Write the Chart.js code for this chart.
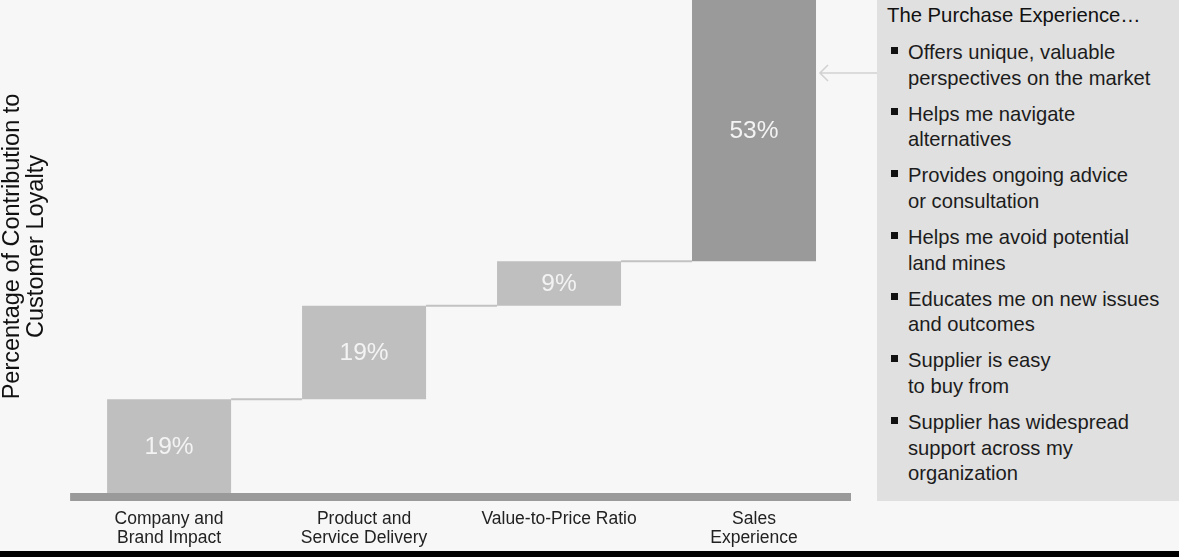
<!DOCTYPE html>
<html>
<head>
<meta charset="utf-8">
<script src="https://cdn.jsdelivr.net/npm/chart.js@4.4.1/dist/chart.umd.min.js"></script>
<style>
  body { margin: 0; background: #f7f7f7; font-family: "Liberation Sans", Arial, sans-serif; }
  #wrap { position: relative; width: 1179px; height: 551px; }
  #panel { position: absolute; left: 877px; top: 0; width: 302px; height: 501px; background: #e0e0e0; color: #1c1c1c; }
  #panel h3 { position: absolute; left: 10px; top: 3px; margin: 0; font-size: 20.3px; font-weight: normal; line-height: 25.5px; color: #111; }
  #panel ul { position: absolute; left: 31px; top: 40px; margin: 0; padding: 0; list-style: none; font-size: 20.2px; line-height: 25.5px; }
  #panel li { position: relative; margin-bottom: 10.7px; white-space: nowrap; }
  #panel li::before { content: ""; position: absolute; left: -17px; top: 6.5px; width: 7px; height: 7px; background: #111; }
  #arrow { position: absolute; left: 814px; top: 60px; }
  #bottomline { height: 6px; background: #000; }
</style>
</head>
<body>
<div id="wrap">
  <canvas id="grafica"></canvas>
  <svg id="arrow" width="64" height="26">
    <path d="M63 13 H6 M14 5 L6 13 L14 21" fill="none" stroke="#d2d2d2" stroke-width="1.6"/>
  </svg>
  <div id="panel">
    <h3 id="paneltitle"></h3>
    <ul id="panellist"></ul>
  </div>
</div>
<div id="bottomline"></div>
<script>
// datos del gráfico
var categorias = [["Company and", "Brand Impact"], ["Product and", "Service Delivery"], "Value-to-Price Ratio", ["Sales", "Experience"]];
var contribuciones = [19, 19, 9, 53];
var tituloEje = ["Percentage of Contribution to", "Customer Loyalty"];

// texto del panel de la derecha
var tituloPanel = "The Purchase Experience\u2026";
var puntosPanel = [
  ["Offers unique, valuable", "perspectives on the market"],
  ["Helps me navigate", "alternatives"],
  ["Provides ongoing advice", "or consultation"],
  ["Helps me avoid potential", "land mines"],
  ["Educates me on new issues", "and outcomes"],
  ["Supplier is easy", "to buy from"],
  ["Supplier has widespread", "support across my", "organization"]
];

// rellenamos el panel
document.getElementById("paneltitle").textContent = tituloPanel;
var lista = document.getElementById("panellist");
puntosPanel.forEach(function (lineas) {
  var li = document.createElement("li");
  lineas.forEach(function (linea, i) {
    if (i > 0) li.appendChild(document.createElement("br"));
    li.appendChild(document.createTextNode(linea));
  });
  lista.appendChild(li);
});

// tramos flotantes de la cascada (inicio, fin)
var tramos = [];
var finales = [];
var acumulado = 0;
contribuciones.forEach(function (v) {
  tramos.push([acumulado, acumulado + v]);
  acumulado += v;
  finales.push(acumulado);
});

var fuente = "'Liberation Sans', Arial, sans-serif";

// línea base, conectores entre barras y etiquetas dentro de cada barra
var extrasCascada = {
  id: "extrasCascada",
  afterDatasetsDraw: function (chart) {
    var ctx = chart.ctx;
    var area = chart.chartArea;
    var meta = chart.getDatasetMeta(0);
    var y = chart.scales.y;
    ctx.save();
    ctx.fillStyle = "#9a9a9a";
    ctx.fillRect(area.left - 1.5, area.bottom, area.right - area.left + 1, 8);
    ctx.strokeStyle = "#c2c2c2";
    ctx.lineWidth = 2;
    for (var i = 0; i < meta.data.length - 1; i++) {
      var a = meta.data[i], b = meta.data[i + 1];
      var py = y.getPixelForValue(finales[i]);
      ctx.beginPath();
      ctx.moveTo(a.x + a.width / 2, py);
      ctx.lineTo(b.x - b.width / 2, py);
      ctx.stroke();
    }
    ctx.fillStyle = "#f3f3f3";
    ctx.font = "24.5px " + fuente;
    ctx.textAlign = "center";
    ctx.textBaseline = "middle";
    meta.data.forEach(function (bar, i) {
      ctx.fillText(contribuciones[i] + "%", bar.x, (bar.y + bar.base) / 2 + 1);
    });
    ctx.restore();
  }
};

var canvas = document.getElementById("grafica").getContext("2d");
var grafica = new Chart(canvas, {
  type: "bar",
  data: {
    labels: categorias,
    datasets: [{
      data: tramos,
      backgroundColor: ["#bfbfbf", "#bfbfbf", "#bfbfbf", "#9a9a9a"],
      borderWidth: 0,
      borderSkipped: false,
      barPercentage: 0.636,
      categoryPercentage: 1
    }]
  },
  options: {
    responsive: true,
    maintainAspectRatio: false,
    animation: false,
    layout: { padding: { left: 0, right: 327.5, top: 0, bottom: 3 } },
    plugins: {
      legend: { display: false },
      tooltip: { enabled: false }
    },
    scales: {
      x: {
        grid: { display: false, drawTicks: false },
        border: { display: false },
        ticks: {
          color: "#222",
          padding: 16,
          font: { family: fuente, size: 17.5, lineHeight: 1.12 },
          maxRotation: 0,
          autoSkip: false
        },
        afterFit: function (scale) { scale.height = 55; }
      },
      y: {
        min: 0,
        max: 100,
        grid: { display: false, drawTicks: false },
        border: { display: false },
        ticks: { display: false },
        title: {
          display: true,
          text: tituloEje,
          color: "#111",
          font: { family: fuente, size: 23.5, lineHeight: 1.034 },
          padding: { top: 0, bottom: 23 }
        }
      }
    }
  },
  plugins: [extrasCascada]
});
</script>
</body>
</html>
